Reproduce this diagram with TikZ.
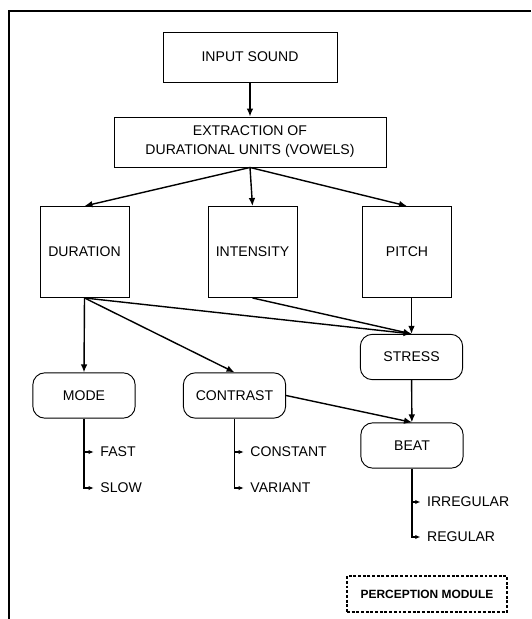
\documentclass[tikz,border=0pt]{standalone}
\usepackage{fontspec}
\setmainfont{Liberation Sans}
\usetikzlibrary{arrows.meta, positioning}

\begin{document}
\begin{tikzpicture}[
  txt/.style={font=\fontsize{12}{16.2}\selectfont},
  block/.style={draw, line width=0.8pt, txt, align=center},
  feature/.style={block, minimum width=2.67cm, minimum height=2.73cm},
  cue/.style={block, rounded corners=0.36cm, minimum width=3.07cm, minimum height=1.36cm},
  leaf/.style={txt, anchor=west},
  link/.style={-{Latex[length=0.24cm, width=0.2cm]}, line width=1.2pt},
  sub/.style={-{Latex[length=0.15cm, width=0.13cm]}, line width=0.9pt, shorten >=0.08cm},
  legend/.style={draw, dash pattern=on 2.5pt off 1.5pt, line width=0.9pt, minimum width=4.8cm, minimum height=1.08cm, font=\fontsize{10.2}{12}\selectfont\bfseries}
]
  \useasboundingbox (0,0) rectangle (15.93,-18.57);

  % Frame
  \draw[line width=1.2pt] (0.27,-18.57) -- (0.27,-0.33) -- (15.93,-0.33);

  % Input
  \node[block, minimum width=5.22cm, minimum height=1.5cm] (input) at (7.5,-1.71) {INPUT SOUND};
  \node[block, minimum width=8.16cm, minimum height=1.5cm] (extract) at (7.5,-4.26) {EXTRACTION OF\\DURATIONAL UNITS (VOWELS)};

  % Features
  \node[feature] (duration)  at (2.535,-7.56) {DURATION};
  \node[feature] (intensity) at (7.575,-7.56) {INTENSITY};
  \node[feature] (pitch)     at (12.21,-7.56) {PITCH};

  % Cues
  \node[cue] (stress)   at (12.345,-10.71) {STRESS};
  \node[cue] (mode)     at (2.52,-11.865)  {MODE};
  \node[cue] (contrast) at (7.035,-11.865) {CONTRAST};
  \node[cue] (beat)     at (12.36,-13.365) {BEAT};

  % Values
  \node[leaf] (fast)      at (2.89,-13.56)  {FAST};
  \node[leaf] (slow)      at (2.89,-14.64)  {SLOW};
  \node[leaf] (constant)  at (7.39,-13.56)  {CONSTANT};
  \node[leaf] (variant)   at (7.39,-14.64)  {VARIANT};
  \node[leaf] (irregular) at (12.69,-15.06) {IRREGULAR};
  \node[leaf] (regular)   at (12.69,-16.11) {REGULAR};

  % Legend
  \node[legend] (module) at (12.81,-17.82) {PERCEPTION MODULE};

  % Links
  \draw[link] (input) -- (extract);
  \draw[link] (extract.south) -- (duration.north);
  \draw[link] (extract.south) -- (intensity.north);
  \draw[link] (extract.south) -- (pitch.north);
  \draw[link] (duration.south) -- (mode.north);
  \draw[link] (duration.south) -- (contrast.north);
  \draw[link] (duration.south) -- (stress.north);
  \draw[link] (intensity.south) -- (stress.north);
  \draw[link] (pitch.south -| stress.north) -- (stress.north);
  \draw[link] (stress) -- (beat);
  \draw[link] (contrast.east) -- (beat.north);

  \draw[sub] (mode.south) |- (slow.west);
  \draw[sub] (mode.south |- fast.west) -- (fast.west);
  \draw[sub] (contrast.south) |- (variant.west);
  \draw[sub] (contrast.south |- constant.west) -- (constant.west);
  \draw[sub] (beat.south) |- (regular.west);
  \draw[sub] (beat.south |- irregular.west) -- (irregular.west);

\end{tikzpicture}
\end{document}
